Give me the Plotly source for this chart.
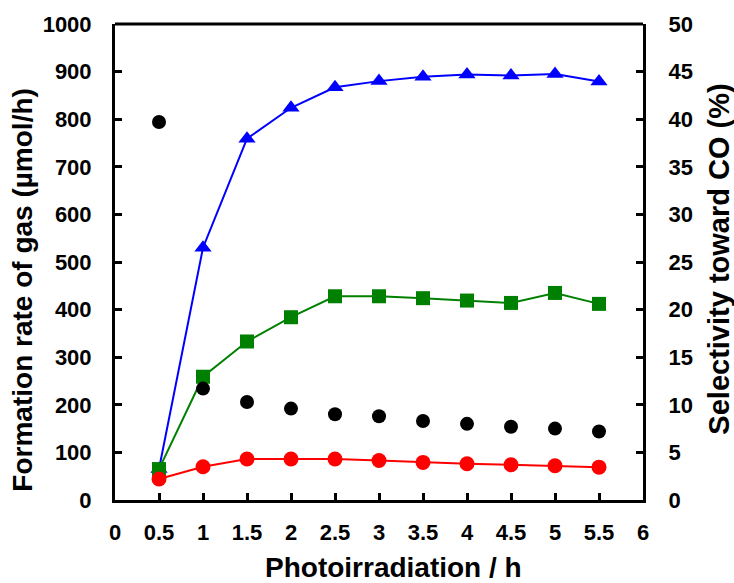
import plotly.graph_objects as go

# Photoirradiation time (h)
time_h = [0.5, 1, 1.5, 2, 2.5, 3, 3.5, 4, 4.5, 5, 5.5]

# Formation rates (µmol/h), left axis
h2_rate = [65, 530, 759, 824, 867, 880, 889, 894, 892, 895, 879]
o2_rate = [65, 259, 333, 384, 428, 428, 424, 419, 414, 435, 412]
co_rate = [44, 70, 86, 86, 86, 83, 79, 76, 74, 72, 69]

# Selectivity toward CO (%), right axis
co_selectivity = [39.7, 11.7, 10.3, 9.6, 9.0, 8.8, 8.3, 8.0, 7.7, 7.5, 7.2]

x_ticks = [0, 0.5, 1, 1.5, 2, 2.5, 3, 3.5, 4, 4.5, 5, 5.5, 6]
x_ticktext = ["0", "0.5", "1", "1.5", "2", "2.5", "3", "3.5", "4", "4.5", "5", "5.5", "6"]
left_ticks = list(range(0, 1001, 100))
right_ticks = list(range(0, 51, 5))

FONT = "Arial, 'Liberation Sans', sans-serif"

fig = go.Figure()
fig.add_trace(go.Scatter(
    x=time_h, y=h2_rate, mode="lines+markers",
    line=dict(color="#0000FF", width=2),
    marker=dict(symbol="triangle-up", size=15, color="#0000FF"),
    showlegend=False, cliponaxis=False))
fig.add_trace(go.Scatter(
    x=time_h, y=o2_rate, mode="lines+markers",
    line=dict(color="#008000", width=2),
    marker=dict(symbol="square", size=14, color="#008000"),
    showlegend=False, cliponaxis=False))
fig.add_trace(go.Scatter(
    x=time_h, y=co_rate, mode="lines+markers",
    line=dict(color="#FF0000", width=2),
    marker=dict(symbol="circle", size=15, color="#FF0000"),
    showlegend=False, cliponaxis=False))
fig.add_trace(go.Scatter(
    x=time_h, y=co_selectivity, mode="markers", yaxis="y2",
    marker=dict(symbol="circle", size=14, color="#000000"),
    showlegend=False, cliponaxis=False))

axis_common = dict(
    showline=True, linecolor="black", linewidth=3, mirror=False,
    ticks="inside", ticklen=7, tickwidth=2.5, tickcolor="black",
    showgrid=False, zeroline=False,
    tickfont=dict(family=FONT, size=22, color="black", weight="bold"),
)

title_font = dict(family=FONT, size=28, color="black", weight="bold")

fig.update_layout(
    width=734, height=583,
    margin=dict(l=115, r=91, t=24, b=83),
    paper_bgcolor="white", plot_bgcolor="white",
    font=dict(family=FONT, color="black"),
    xaxis=dict(range=[0, 6], tickvals=x_ticks, ticktext=x_ticktext,
               ticklabelstandoff=11, **axis_common),
    yaxis=dict(range=[0, 1000], tickvals=left_ticks,
               ticklabelstandoff=16, **axis_common),
    yaxis2=dict(range=[0, 50], tickvals=right_ticks, overlaying="y", side="right",
                ticklabelstandoff=18, **axis_common),
    shapes=[dict(type="line", xref="paper", yref="paper", x0=0, x1=1, y0=1, y1=1,
                 line=dict(color="black", width=3))],
    annotations=[
        dict(text="Photoirradiation / h", xref="paper", yref="paper",
             x=0.528, y=-0.142, xanchor="center", yanchor="middle", showarrow=False,
             font=title_font),
        dict(text="Formation rate of gas (µmol/h)", xref="paper", yref="paper",
             x=-0.176, y=0.44, xanchor="center", yanchor="middle", textangle=-90,
             showarrow=False, font=title_font),
        dict(text="Selectivity toward CO (%)", xref="paper", yref="paper",
             x=1.144, y=0.505, xanchor="center", yanchor="middle", textangle=-90,
             showarrow=False, font=dict(title_font, size=29)),
    ],
)

fig.write_html("out.html")
